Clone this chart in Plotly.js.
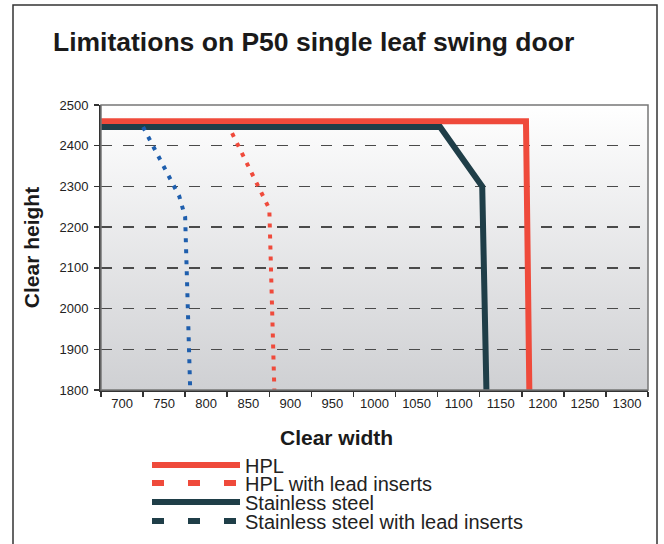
<!DOCTYPE html>
<html><head><meta charset="utf-8">
<script src="https://cdn.plot.ly/plotly-3.0.1.min.js"></script>
<style>html,body{margin:0;padding:0;background:#fff}#chart{width:664px;height:544px}</style>
</head><body><div id="chart"></div>
<script>
const tickLabels = [700, 750, 800, 850, 900, 950, 1000, 1050, 1100, 1150, 1200, 1250, 1300];
const yTicks = [1800, 1900, 2000, 2100, 2200, 2300, 2400, 2500];

const hplX = [675, 1180, 1184];
const hplY = [2460, 2460, 1800];
const hplLeadX = [825, 866, 875, 881];
const hplLeadY = [2455, 2285, 2245, 1800];
const ssX = [675, 1078, 1128, 1133];
const ssY = [2446, 2446, 2300, 1800];
const ssLeadX = [725, 768, 775, 781];
const ssLeadY = [2446, 2276, 2225, 1800];

const seriesNames = ['HPL', 'HPL with lead inserts', 'Stainless steel', 'Stainless steel with lead inserts'];

const RED = '#ef4a3b', TEAL = '#1f3e48', BLUE = '#1e5ead';

const traces = [
  {x: hplX, y: hplY, mode: 'lines', line: {color: RED, width: 6}, showlegend: false, hoverinfo: 'skip'},
  {x: hplLeadX, y: hplLeadY, mode: 'lines', line: {color: RED, width: 4, dash: '4px,7px'}, showlegend: false, hoverinfo: 'skip'},
  {x: ssX, y: ssY, mode: 'lines', line: {color: TEAL, width: 6}, showlegend: false, hoverinfo: 'skip'},
  {x: ssLeadX, y: ssLeadY, mode: 'lines', line: {color: BLUE, width: 4, dash: '4px,7px'}, showlegend: false, hoverinfo: 'skip'},
  // legend entries
  {x: [null], y: [null], mode: 'lines', name: seriesNames[0], legend: 'legend', line: {color: RED, width: 6}},
  {x: [null], y: [null], mode: 'lines', name: seriesNames[1], legend: 'legend2', line: {color: RED, width: 6, dash: '12px,24px'}},
  {x: [null], y: [null], mode: 'lines', name: seriesNames[2], legend: 'legend3', line: {color: TEAL, width: 6}},
  {x: [null], y: [null], mode: 'lines', name: seriesNames[3], legend: 'legend4', line: {color: TEAL, width: 6, dash: '12px,24px'}}
];

const grad = 'data:image/svg+xml;charset=utf-8,' + encodeURIComponent(
  '<svg xmlns="http://www.w3.org/2000/svg" width="100" height="100" preserveAspectRatio="none">' +
  '<defs><linearGradient id="g" x1="0" y1="0" x2="0" y2="1">' +
  '<stop offset="0" stop-color="#ffffff"/><stop offset="1" stop-color="#cfd0d3"/></linearGradient></defs>' +
  '<rect width="100" height="100" fill="url(#g)"/></svg>');

const FONT = 'Liberation Sans, Arial, sans-serif';
const PL = 101, PR = 648, PT = 105, PB = 390;
const px2x = p => (p - PL) / (PR - PL);
const px2y = p => (PB - p) / (PB - PT);

function legendAt(yc) {
  return {x: px2x(147), xanchor: 'left', y: px2y(yc), yanchor: 'middle', orientation: 'v',
          font: {size: 20, color: '#222'}, itemwidth: 88, bgcolor: 'rgba(0,0,0,0)', borderwidth: 0};
}

const layout = {
  width: 664, height: 544,
  margin: {l: PL, r: 664 - PR, t: PT, b: 544 - PB, autoexpand: false},
  paper_bgcolor: '#ffffff',
  plot_bgcolor: 'rgba(0,0,0,0)',
  font: {family: FONT, color: '#222222', size: 13},
  title: {text: '<b>Limitations on P50 single leaf swing door</b>', font: {family: FONT, size: 26.5, color: '#1a1a1a'},
          x: 53/664, xanchor: 'left', xref: 'container', yref: 'container', y: 1 - 42/544, yanchor: 'middle'},
  xaxis: {
    range: [675, 1325], tickmode: 'array', tickvals: tickLabels, ticktext: tickLabels.map(String),
    ticks: '', showgrid: false, zeroline: false,
    showline: true, linecolor: '#333333', linewidth: 2,
    tickfont: {size: 13, color: '#222'},
    minor: {tick0: 675, dtick: 50, ticks: 'outside', ticklen: 5, tickcolor: '#333', tickwidth: 1.5, showgrid: false},
    fixedrange: true
  },
  yaxis: {
    range: [1800, 2500], tickmode: 'array', tickvals: yTicks,
    ticks: 'outside', ticklen: 5, tickcolor: '#333', tickwidth: 1.5, ticklabelstandoff: 3,
    showline: true, linecolor: '#333333', linewidth: 2,
    showgrid: true, gridcolor: '#4a4a4a', gridwidth: 1.5, griddash: '11px,11px',
    zeroline: false, tickfont: {size: 13, color: '#222'},
    title: {text: '<b>Clear height</b>', font: {size: 21, color: '#1a1a1a'}, standoff: 14},
    fixedrange: true
  },
  images: [{source: grad, xref: 'paper', yref: 'paper', x: 0, y: 1, sizex: 1, sizey: 1,
            sizing: 'stretch', xanchor: 'left', yanchor: 'top', layer: 'below'}],
  shapes: [
    {type: 'rect', xref: 'paper', yref: 'paper', x0: 0, x1: 1, y0: 0, y1: 1, line: {color: '#777', width: 1.5}, layer: 'above'},
    {type: 'rect', xref: 'paper', yref: 'paper', x0: px2x(13), x1: px2x(657), y0: px2y(580), y1: px2y(5),
     line: {color: '#333', width: 1.5}, fillcolor: 'rgba(0,0,0,0)', layer: 'below'}
  ],
  annotations: [
    {text: '<b>Clear width</b>', xref: 'paper', yref: 'paper', x: px2x(336), y: px2y(437),
     xanchor: 'center', yanchor: 'middle', showarrow: false, font: {size: 21, color: '#1a1a1a'}}
  ],
  legend: legendAt(465),
  legend2: legendAt(483),
  legend3: legendAt(502),
  legend4: legendAt(521),
  showlegend: true
};

Plotly.newPlot('chart', traces, layout, {displayModeBar: false, staticPlot: true});
</script></body></html>
